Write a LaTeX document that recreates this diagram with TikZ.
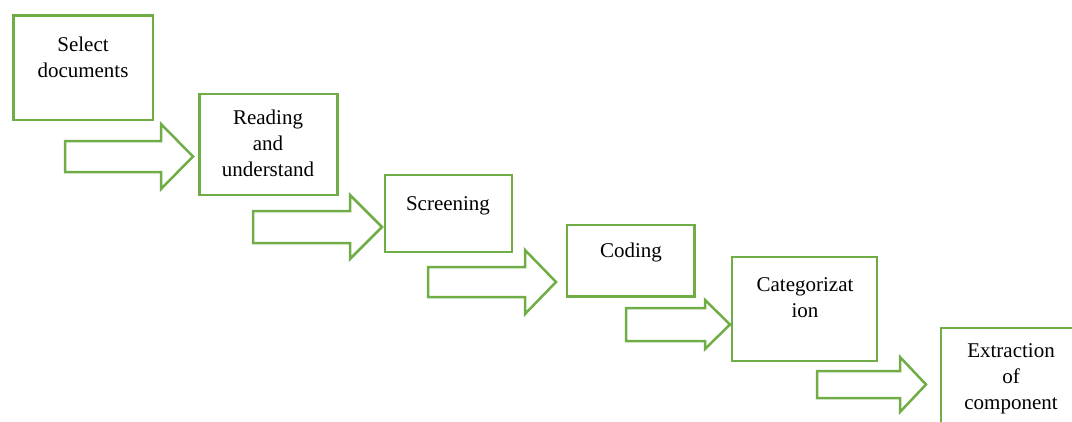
\documentclass[tikz,border=0pt]{standalone}
\usepackage{fontspec}
\setmainfont{Liberation Serif}
\definecolor{stagegreen}{HTML}{70AD47}
\tikzset{
  stage/.style={draw=stagegreen,line width=2.5pt,inner sep=0pt},
  stagetext/.style={align=center,inner sep=0pt,font=\fontsize{21}{26}\selectfont},
  blockarrow/.style={draw=stagegreen,line width=2.5pt,line join=miter}
}
% left end, middle y, shaft half height, head start, head half height, tip
\newcommand{\flowarrow}[6]{%
  \draw[blockarrow] (#1,#2-#3) -- (#4,#2-#3) -- (#4,#2-#5) -- (#6,#2)
    -- (#4,#2+#5) -- (#4,#2+#3) -- (#1,#2+#3) -- cycle;}
\begin{document}
\begin{tikzpicture}[x=1pt,y=-1pt]
      \useasboundingbox (0,0) rectangle (1072,421);
      \clip (0,0) rectangle (1072,421);

      \node[stage,minimum width=139.5pt,minimum height=104.5pt] (select) at (83.25,67.75) {};
      \node[stage,minimum width=138pt,minimum height=101pt] (reading) at (268.5,144.5) {};
      \node[stage,minimum width=127pt,minimum height=77pt] (screening) at (448.5,213.5) {};
      \node[stage,minimum width=127.5pt,minimum height=71.5pt] (coding) at (630.75,260.75) {};
      \node[stage,minimum width=145pt,minimum height=104pt] (categ) at (804.5,309) {};
      \node[stage,minimum width=159pt,minimum height=122pt] (extract) at (1020.5,389) {};

      \node[stagetext] (selectT) at (83,57) {Select\\documents};
      \node[stagetext] (readingT) at (268,143) {Reading\\and\\understand};
      \node[stagetext] (screeningT) at (448,206) {Screening};
      \node[stagetext] (codingT) at (631,252) {Coding};
      \node[stagetext] (categT) at (805,298) {Categorizat\\ion};
      \node[stagetext] (extractT) at (1011,379) {Extraction\\of\\component};

      \flowarrow{65}{156.5}{15.5}{161}{32.5}{193}
      \flowarrow{253}{227}{16}{350}{32}{382}
      \flowarrow{428}{282}{15}{525}{32}{556}
      \flowarrow{626}{324.5}{16.5}{705}{24.5}{730}
      \flowarrow{817}{384.5}{13.5}{900}{27.5}{926}
    \end{tikzpicture}
\end{document}
